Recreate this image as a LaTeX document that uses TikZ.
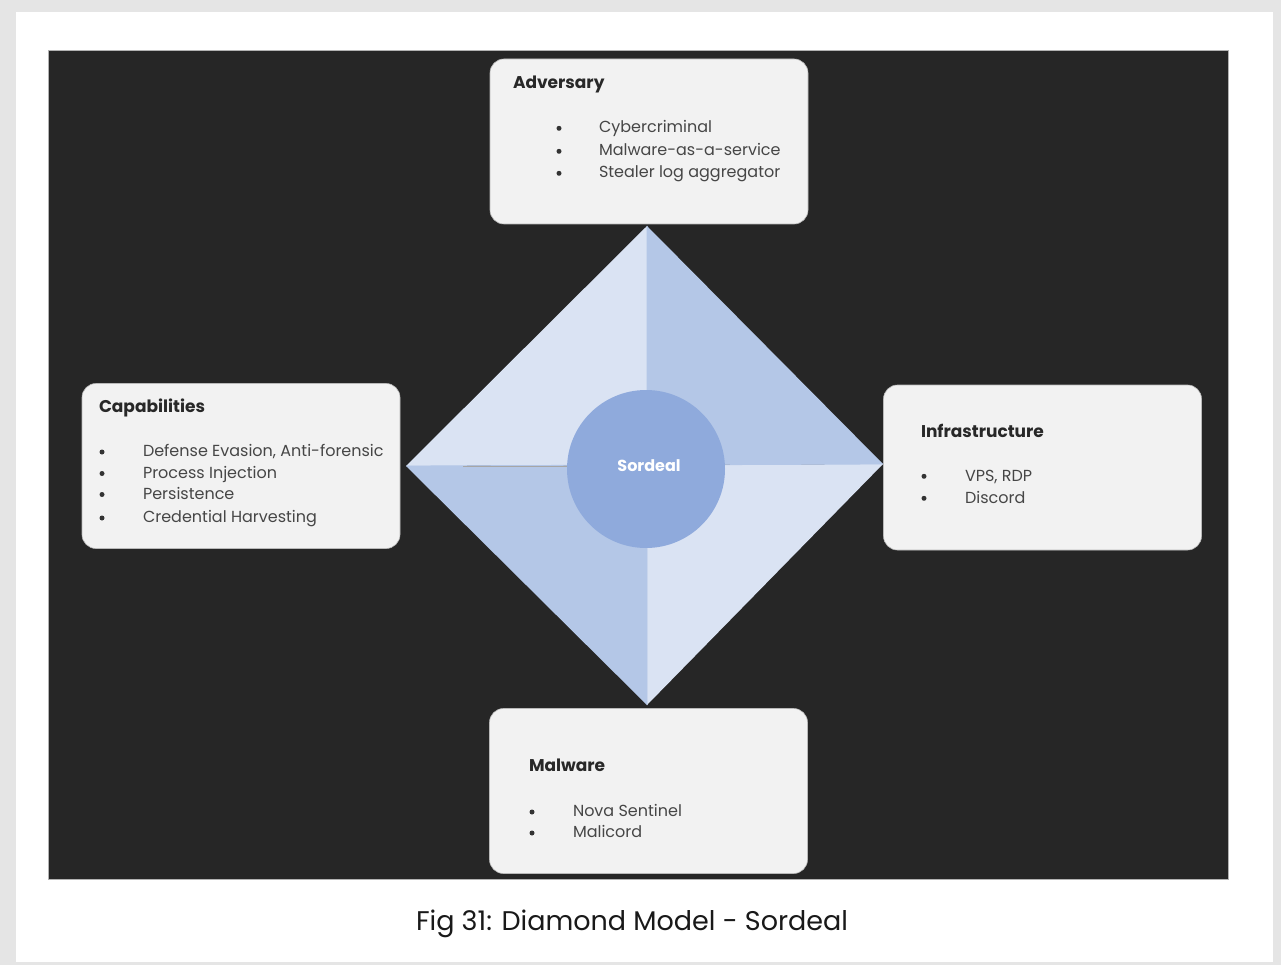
\documentclass[tikz,border=0pt]{standalone}
\usepackage{fontspec}
\setmainfont{Poppins}
\usetikzlibrary{positioning}

\definecolor{edgeColor}{RGB}{229,229,229}
\definecolor{panelColor}{RGB}{38,38,38}
\definecolor{boxColor}{RGB}{242,242,242}
\definecolor{paleBlue}{RGB}{218,227,243}
\definecolor{midBlue}{RGB}{180,199,231}
\definecolor{coreBlue}{RGB}{143,170,220}
\definecolor{itemColor}{RGB}{70,70,70}
\definecolor{titleColor}{RGB}{40,40,40}

\begin{document}
\begin{tikzpicture}[x=1pt,y=-1pt,
  infobox/.style={draw=gray!55,line width=0.6pt,fill=boxColor,rounded corners=14pt,
    inner sep=0pt,minimum width=318pt,minimum height=165pt},
  boxtitle/.style={anchor=base west,inner sep=0pt,outer sep=0pt,text=titleColor,
    font=\fontsize{17}{20}\selectfont\bfseries},
  boxitem/.style={anchor=base west,inner sep=0pt,outer sep=0pt,text=itemColor,
    font=\fontsize{16}{18}\selectfont},
  bulletdot/.style={circle,fill=black!80,inner sep=0pt,minimum size=5pt}]
\useasboundingbox (0,0) rectangle (1281,965);

% page and dark panel
\fill[edgeColor] (0,0) rectangle (1281,965);
\fill[white] (16,12) rectangle (1273,962);
\path[draw=gray!60,line width=0.8pt,fill=panelColor] (48.5,50) rectangle (1228,879.5);

% diamond
\coordinate (dtop) at (647,226);
\coordinate (dright) at (883,464);
\coordinate (dbottom) at (647,705);
\coordinate (dleft) at (406,466);
\coordinate (dmid) at (647,465);
\fill[paleBlue] (dleft) -- (dtop) -- (dmid) -- cycle;
\fill[paleBlue] (dright) -- (dbottom) -- (dmid) -- cycle;
\fill[midBlue] (dtop) -- (dright) -- (dmid) -- cycle;
\fill[midBlue] (dbottom) -- (dleft) -- (dmid) -- cycle;
\draw[midBlue,line width=0.8pt] (dtop) -- (dmid) -- (dright);
\draw[midBlue,line width=0.8pt] (dbottom) -- (dmid) -- (dleft);
\draw[gray!70,line width=0.8pt] (463,466) -- (570,466);

\node[circle,fill=coreBlue,minimum size=158pt,inner sep=0pt] (core) at (646,469) {};
\node[text=white,inner sep=0pt,font=\fontsize{16}{18}\selectfont\bfseries]
  (coreLabel) at (649,466) {Sordeal};

% boxes
\node[infobox] (adversary) at (649,141.5) {};
\node[infobox] (capabilities) at (241,466) {};
\node[infobox] (infrastructure) at (1042.5,467.5) {};
\node[infobox] (malware) at (648.5,791) {};

% Adversary
\node[boxtitle] (advTitle) at (513,89) {Adversary};
\node[bulletdot] (advB1) at (559,128.3) {};
\node[bulletdot] (advB2) at (559,151.3) {};
\node[bulletdot] (advB3) at (559,173.3) {};
\node[boxitem] (advI1) at (599,133) {Cybercriminal};
\node[boxitem] (advI2) at (599,156) {Malware-as-a-service};
\node[boxitem] (advI3) at (599,178) {Stealer log aggregator};

% Capabilities
\node[boxtitle] (capTitle) at (99,412) {Capabilities};
\node[bulletdot] (capB1) at (102,452) {};
\node[bulletdot] (capB2) at (102,473.5) {};
\node[bulletdot] (capB3) at (102,494.5) {};
\node[bulletdot] (capB4) at (102,518) {};
\node[boxitem] (capI1) at (143,456.7) {Defense Evasion, Anti-forensic};
\node[boxitem] (capI2) at (143,478) {Process Injection};
\node[boxitem] (capI3) at (143,499) {Persistence};
\node[boxitem] (capI4) at (143,522.5) {Credential Harvesting};

% Infrastructure
\node[boxtitle] (infTitle) at (921,437.7) {Infrastructure};
\node[bulletdot] (infB1) at (924,476.3) {};
\node[bulletdot] (infB2) at (924,498.3) {};
\node[boxitem] (infI1) at (965,481) {VPS, RDP};
\node[boxitem] (infI2) at (965,503) {Discord};

% Malware
\node[boxtitle] (malTitle) at (529,771.7) {Malware};
\node[bulletdot] (malB1) at (532,812) {};
\node[bulletdot] (malB2) at (532,833) {};
\node[boxitem] (malI1) at (573,816.7) {Nova Sentinel};
\node[boxitem] (malI2) at (573,837.7) {Malicord};

% caption
\node[anchor=base,inner sep=0pt,text=black!90,font=\fontsize{27}{30}\selectfont]
  (caption) at (632,930) {Fig 31: Diamond Model - Sordeal};
\end{tikzpicture}
\end{document}
